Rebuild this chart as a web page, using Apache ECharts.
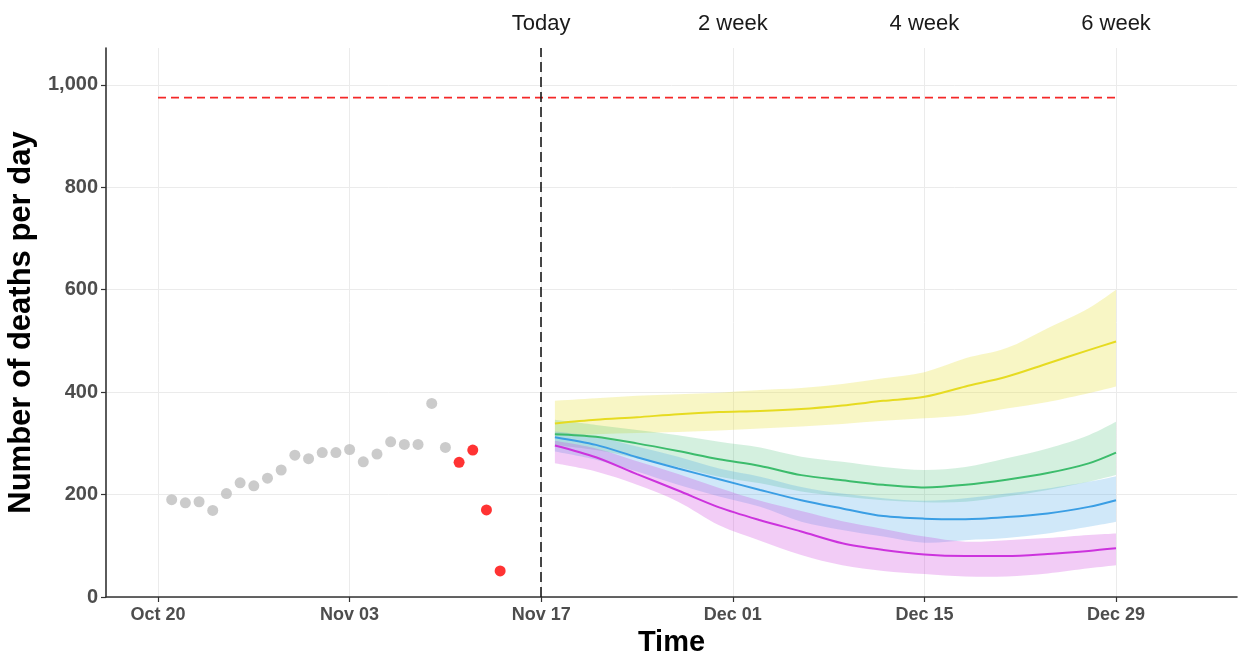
<!DOCTYPE html>
<html>
<head>
<meta charset="utf-8">
<script src="https://cdn.jsdelivr.net/npm/echarts@6.0.0/dist/echarts.min.js"></script>
<style>
html,body{margin:0;padding:0;background:#fff;}
#chart{width:1239px;height:655px;}
</style>
</head>
<body>
<div id="chart"></div>
<script>
// ---------- data ----------
const obsDates = ['2020-10-21','2020-10-22','2020-10-23','2020-10-24','2020-10-25','2020-10-26','2020-10-27',
  '2020-10-28','2020-10-29','2020-10-30','2020-10-31','2020-11-01','2020-11-02','2020-11-03','2020-11-04',
  '2020-11-05','2020-11-06','2020-11-07','2020-11-08','2020-11-09','2020-11-10'];
const obsValues = [190,184,186,169,202,223,217,232,248,277,270,282,282,288,264,279,303,298,298,378,292];

const recentDates = ['2020-11-11','2020-11-12','2020-11-13','2020-11-14'];
const recentValues = [263,287,170,51];

const fcDates = ['2020-11-18','2020-11-21','2020-11-24','2020-11-27','2020-11-30','2020-12-03','2020-12-06',
  '2020-12-09','2020-12-12','2020-12-15','2020-12-18','2020-12-21','2020-12-24','2020-12-27','2020-12-29'];

const yellowMid = [339,346,351,357,361,363,367,374,383,391,411,430,456,482,499];
const yellowHi  = [383,388,393,396,399,404,408,416,427,439,466,486,525,564,600];
const yellowLo  = [315,318,320,322,325,329,333,338,344,349,355,368,381,398,411];

const greenMid = [318,313,300,285,269,256,238,228,219,214,219,229,242,261,282];
const greenHi  = [346,336,326,316,303,292,274,264,254,248,254,271,290,316,342];
const greenLo  = [297,287,271,254,235,222,206,196,189,185,186,196,209,225,238];

const blueMid = [312,297,273,251,230,209,189,173,158,153,152,156,163,176,189];
const blueHi  = [323,313,294,274,251,235,215,202,193,188,193,202,212,225,236];
const blueLo  = [284,268,245,219,196,176,147,131,118,106,111,115,124,137,147];

const magentaMid = [296,273,240,208,175,150,128,105,92,83,80,80,84,90,95];
const magentaHi  = [305,290,265,240,213,188,168,148,133,118,108,111,115,121,124];
const magentaLo  = [261,245,219,186,140,110,82,62,51,45,40,40,46,56,62];

const thresholdValue = 975;
const thresholdDates = ['2020-10-20','2020-12-29'];
const todayDate = '2020-11-17';

const xTickDates = ['2020-10-20','2020-11-03','2020-11-17','2020-12-01','2020-12-15','2020-12-29'];
const topTickDates = ['2020-11-17','2020-12-01','2020-12-15','2020-12-29'];
const topTickLabels = ['Today','2 week','4 week','6 week'];
const yTickValues = [0,200,400,600,800,1000];
const monthNames = ['Jan','Feb','Mar','Apr','May','Jun','Jul','Aug','Sep','Oct','Nov','Dec'];

// ---------- helpers ----------
function ts(s){ const p=s.split('-').map(Number); return Date.UTC(p[0],p[1]-1,p[2]); }
const DAY = 86400000;
const xMin = ts('2020-10-20') - 3.8*DAY;
const xMax = ts('2020-12-29') + 8.84*DAY;
const FONT = '"Liberation Sans", Arial, sans-serif';

function pairs(dates, vals){ return dates.map((d,i)=>[ts(d), vals[i]]); }

// smooth path through pixel points (Catmull-Rom -> cubic Bezier)
function smoothPath(pts, moveFirst){
  const k = 0.5/3;
  let s = (moveFirst ? 'M' : 'L') + pts[0][0] + ' ' + pts[0][1];
  for (let i=0;i<pts.length-1;i++){
    const p0 = pts[Math.max(i-1,0)], p1 = pts[i], p2 = pts[i+1], p3 = pts[Math.min(i+2,pts.length-1)];
    const c1x = p1[0] + (p2[0]-p0[0])*k, c1y = p1[1] + (p2[1]-p0[1])*k;
    const c2x = p2[0] - (p3[0]-p1[0])*k, c2y = p2[1] - (p3[1]-p1[1])*k;
    s += ' C' + c1x + ' ' + c1y + ' ' + c2x + ' ' + c2y + ' ' + p2[0] + ' ' + p2[1];
  }
  return s;
}

function band(name, lo, hi, color){
  return {
    type:'custom', name:name+'_band', coordinateSystem:'cartesian2d', silent:true, z:1,
    data: fcDates.map((d,i)=>[ts(d), lo[i], hi[i]]),
    encode:{x:0, y:[1,2]},
    renderItem:function(params, api){
      if (params.dataIndex !== 0) return null;
      const upper = fcDates.map((d,i)=>api.coord([ts(d), hi[i]]));
      const lower = fcDates.map((d,i)=>api.coord([ts(d), lo[i]])).reverse();
      const path = smoothPath(upper, true) + ' ' + smoothPath(lower, false) + ' Z';
      return {type:'path', shape:{pathData:path}, style:{fill:color, stroke:null}};
    }
  };
}
function midLine(name, vals, color){
  return {type:'line', name:name, data:pairs(fcDates, vals), symbol:'none', smooth:0.3,
    lineStyle:{color:color, width:2}, z:3, silent:true};
}

const series = [
  band('yellow', yellowLo, yellowHi, 'rgba(232,224,64,0.30)'),
  band('green', greenLo, greenHi, 'rgba(60,188,108,0.22)'),
  band('blue', blueLo, blueHi, 'rgba(58,158,228,0.24)'),
  band('magenta', magentaLo, magentaHi, 'rgba(204,51,221,0.25)'),
  midLine('yellow', yellowMid, '#E6DB21'),
  midLine('green', greenMid, '#3CBC6C'),
  midLine('blue', blueMid, '#3A9EE4'),
  midLine('magenta', magentaMid, '#CC33DD'),
  {type:'line', name:'threshold', data:pairs(thresholdDates,[thresholdValue,thresholdValue]), symbol:'none',
   lineStyle:{color:'#F42828', width:1.8, type:[8,5]}, z:2, silent:true,
   markLine:{silent:true, symbol:'none', label:{show:false},
     lineStyle:{color:'#1a1a1a', width:1.6, type:[10,5]},
     data:[{xAxis: ts(todayDate)}]}},
  {type:'scatter', name:'observed', data:pairs(obsDates, obsValues), symbolSize:11,
   itemStyle:{color:'#BEBEBE'}, z:4, silent:true},
  {type:'scatter', name:'recent', data:pairs(recentDates, recentValues), symbolSize:11,
   itemStyle:{color:'#FF0000'}, z:4, silent:true}
];

function fmtDate(v){
  const d=new Date(v); const dd=d.getUTCDate();
  return monthNames[d.getUTCMonth()]+' '+(dd<10?'0'+dd:dd);
}

const chart = echarts.init(document.getElementById('chart'), null, {renderer:'canvas'});
chart.setOption({
  animation:false,
  backgroundColor:'#ffffff',
  grid:{left:106, right:2, top:48, bottom:58, containLabel:false, outerBoundsMode:'none'},
  xAxis:[
    {type:'value', min:xMin, max:xMax, position:'bottom', scale:true,
     axisLine:{show:true, onZero:false, lineStyle:{color:'#333', width:1.6}},
     axisTick:{show:true, customValues:xTickDates.map(ts), length:5, lineStyle:{color:'#333', width:1.2}},
     axisLabel:{customValues:xTickDates.map(ts), margin:9, color:'#4D4D4D', fontSize:18, fontWeight:'bold', fontFamily:FONT,
       formatter:function(v){ return fmtDate(v); }},
     splitLine:{show:true, lineStyle:{color:'#EBEBEB', width:1}},
     name:'Time', nameLocation:'middle', nameGap:29,
     nameTextStyle:{color:'#000', fontSize:29, fontWeight:'bold', fontFamily:FONT}},
    {type:'value', min:xMin, max:xMax, position:'top', scale:true,
     axisLine:{show:false}, axisTick:{show:false}, splitLine:{show:false},
     axisLabel:{customValues:topTickDates.map(ts), margin:13, color:'#1a1a1a', fontSize:22, fontFamily:FONT,
       formatter:function(v){ const i=topTickDates.map(ts).indexOf(v); return i>=0?topTickLabels[i]:''; }}}
  ],
  yAxis:{type:'value', min:0, max:1072, interval:200,
    axisLine:{show:true, lineStyle:{color:'#333', width:1.6}},
    axisTick:{show:true, customValues:yTickValues, length:5, lineStyle:{color:'#333', width:1.2}},
    axisLabel:{customValues:yTickValues, margin:8, color:'#4D4D4D', fontSize:20, fontWeight:'bold', fontFamily:FONT,
      formatter:function(v){ return Number(v).toLocaleString('en-US'); }},
    splitLine:{show:true, lineStyle:{color:'#EBEBEB', width:1}},
    name:'Number of deaths per day', nameLocation:'middle', nameRotate:90, nameGap:64,
    nameTextStyle:{color:'#000', fontSize:31, fontWeight:'bold', fontFamily:FONT}},
  series: series
});
</script>
</body>
</html>
